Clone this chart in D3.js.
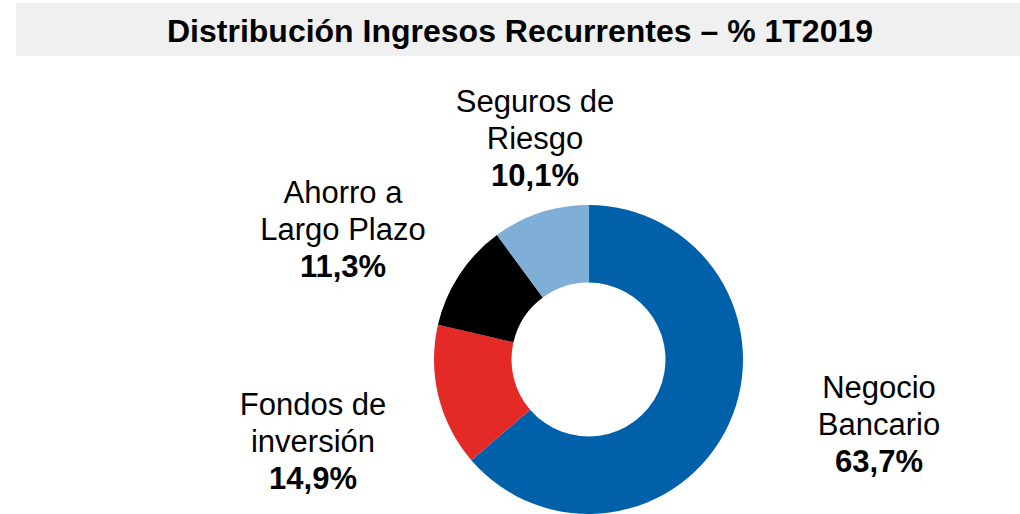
<!DOCTYPE html>
<html>
<head>
<meta charset="utf-8">
<script src="https://cdn.jsdelivr.net/npm/d3@7"></script>
<style>
  body { margin: 0; background: #fff; }
  svg { display: block; font-family: "Liberation Sans", Arial, sans-serif; }
</style>
</head>
<body>
<svg id="chart" width="1020" height="514"></svg>
<script>
// data
const categories = ["Negocio Bancario", "Fondos de inversión", "Ahorro a Largo Plazo", "Seguros de Riesgo"];
const shares = [63.7, 14.9, 11.3, 10.1];
const labelLines = [["Negocio", "Bancario"], ["Fondos de", "inversión"], ["Ahorro a", "Largo Plazo"], ["Seguros de", "Riesgo"]];
const colors = ["#0060A9", "#E42A27", "#000000", "#7FAFD6"];

// layout
const cx = 588.5, cy = 359.5;
const outerR = 154.5, innerR = 77;
const labelAnchors = [[879, 398], [313, 415], [343, 203], [535, 112]];
const lineH = 37;

const svg = d3.select("#chart");

svg.append("rect")
  .attr("x", 16)
  .attr("y", 3)
  .attr("width", 1004)
  .attr("height", 53)
  .attr("fill", "#F0F0F0");

svg.append("text")
  .attr("x", 520)
  .attr("y", 42)
  .attr("text-anchor", "middle")
  .attr("font-size", 32)
  .attr("font-weight", "bold")
  .text("Distribución Ingresos Recurrentes – % 1T2019");

const pie = d3.pie().sort(null).value(d => d);
const arc = d3.arc().innerRadius(innerR).outerRadius(outerR);

const g = svg.append("g").attr("transform", `translate(${cx},${cy})`);

g.selectAll("path")
  .data(pie(shares))
  .enter()
  .append("path")
  .attr("d", arc)
  .attr("fill", (d, i) => colors[i]);

const fmt = v => d3.format(".1f")(v).replace(".", ",") + "%";

const labels = svg.append("g").attr("class", "labels");

categories.forEach((c, i) => {
  const [x, y] = labelAnchors[i];
  const t = labels.append("text")
    .attr("x", x)
    .attr("y", y)
    .attr("text-anchor", "middle")
    .attr("font-size", 31);

  labelLines[i].forEach((line, k) => {
    t.append("tspan")
      .attr("x", x)
      .attr("y", y + k * lineH)
      .text(line);
  });

  t.append("tspan")
    .attr("x", x)
    .attr("y", y + 2 * lineH)
    .attr("font-weight", "bold")
    .text(fmt(shares[i]));
});
</script>
</body>
</html>
